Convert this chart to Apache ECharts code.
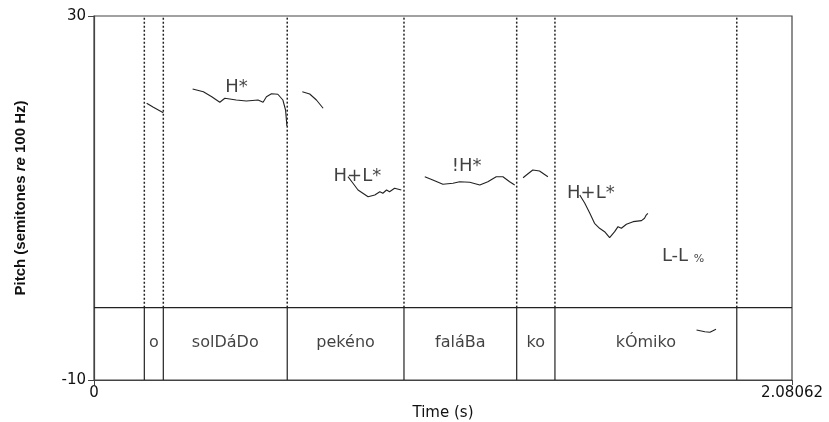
<!DOCTYPE html>
<html>
<head>
<meta charset="utf-8">
<script src="https://cdn.jsdelivr.net/npm/echarts@6/dist/echarts.min.js"></script>
<style>
  html, body { margin: 0; padding: 0; background: #fff; }
  #chart { width: 829px; height: 422px; }
</style>
</head>
<body>
<div id="chart"></div>
<script>
// word boundaries (s) and the word tier
const boundaries = [0.150, 0.2066, 0.576, 0.924, 1.260, 1.374, 1.916];
const words = ['o', 'solDáDo', 'pekéno', 'faláBa', 'ko', 'kÓmiko'];
const tierLine = -2.05;
const wordPitch = -5.9;

// tone labels
const toneNames = ['H*', 'H+L*', '!H*', 'H+L*', 'L-L {pc|%}'];
const toneTimes = [0.425, 0.785, 1.111, 1.481, 1.756];
const tonePitch = [22.16, 12.34, 13.44, 10.52, 3.55];

// pitch track pieces [time, semitones]
const f0Seg1 = [[0.157, 20.41], [0.177, 19.97], [0.2066, 19.37]];
const f0Seg2 = [[0.294, 21.98], [0.326, 21.68], [0.351, 21.13], [0.375, 20.52], [0.390, 20.96],
  [0.424, 20.77], [0.454, 20.66], [0.489, 20.77], [0.504, 20.52], [0.514, 21.13],
  [0.529, 21.46], [0.548, 21.40], [0.563, 20.77], [0.571, 19.67], [0.575, 17.91]];
const f0Seg3 = [[0.621, 21.68], [0.643, 21.43], [0.663, 20.77], [0.683, 19.86]];
const f0Seg4 = [[0.757, 12.34], [0.772, 11.62], [0.787, 10.88], [0.817, 10.14], [0.837, 10.33],
  [0.852, 10.69], [0.861, 10.52], [0.872, 10.88], [0.881, 10.69], [0.896, 11.07], [0.916, 10.88]];
const f0Seg5 = [[0.986, 12.34], [1.010, 11.98], [1.040, 11.51], [1.070, 11.62], [1.090, 11.79],
  [1.120, 11.73], [1.150, 11.43], [1.174, 11.79], [1.199, 12.34], [1.219, 12.34],
  [1.239, 11.79], [1.254, 11.43]];
const f0Seg6 = [[1.279, 12.23], [1.289, 12.53], [1.308, 13.08], [1.328, 12.97], [1.353, 12.34]];
const f0Seg7 = [[1.448, 10.33], [1.463, 9.42], [1.478, 8.32], [1.492, 7.22], [1.507, 6.67],
  [1.522, 6.30], [1.537, 5.64], [1.552, 6.30], [1.562, 6.85], [1.572, 6.67], [1.587, 7.11],
  [1.607, 7.40], [1.632, 7.51], [1.641, 7.77], [1.646, 8.13], [1.651, 8.32]];
const f0Seg8 = [[1.796, -4.51], [1.821, -4.69], [1.836, -4.76], [1.854, -4.43]];

const xMax = 2.08062;
const inkColor = '#222';
const font = 'DejaVu Sans';

const series = [];

[f0Seg1, f0Seg2, f0Seg3, f0Seg4, f0Seg5, f0Seg6, f0Seg7, f0Seg8].forEach(seg => {
    series.push({
        type: 'line',
        data: seg,
        showSymbol: false,
        silent: true,
        animation: false,
        lineStyle: { color: inkColor, width: 1.1 }
    });
});

// boundaries: dotted above the tier line, solid inside the word tier
boundaries.forEach(b => {
    series.push({
        type: 'line',
        data: [[b, tierLine], [b, 30]],
        showSymbol: false,
        silent: true,
        animation: false,
        lineStyle: { color: inkColor, width: 1.5, type: [2, 2] }
    });
    series.push({
        type: 'line',
        data: [[b, -10], [b, tierLine]],
        showSymbol: false,
        silent: true,
        animation: false,
        lineStyle: { color: inkColor, width: 1.2 }
    });
});

series.push({
    type: 'line',
    data: [[0, tierLine], [xMax, tierLine]],
    showSymbol: false,
    silent: true,
    animation: false,
    lineStyle: { color: inkColor, width: 1.2 }
});

// word labels centred in their intervals
series.push({
    type: 'scatter',
    symbolSize: 1,
    silent: true,
    animation: false,
    itemStyle: { color: 'rgba(0,0,0,0)' },
    data: words.map((w, i) => ({ name: w, value: [(boundaries[i] + boundaries[i + 1]) / 2, wordPitch] })),
    label: {
        show: true,
        position: 'inside',
        formatter: '{b}',
        color: '#111',
        fontFamily: font,
        fontSize: 16
    }
});

series.push({
    type: 'scatter',
    symbolSize: 1,
    silent: true,
    animation: false,
    itemStyle: { color: 'rgba(0,0,0,0)' },
    data: toneNames.map((n, i) => ({ name: n, value: [toneTimes[i], tonePitch[i]] })),
    label: {
        show: true,
        position: 'inside',
        formatter: p => p.name,
        color: '#111',
        fontFamily: font,
        fontSize: 18,
        rich: {
            pc: { fontFamily: font, fontSize: 11, color: '#111', padding: [4, 0, 0, 0] }
        }
    }
});

const option = {
    animation: false,
    backgroundColor: '#fff',
    grid: {
        left: 94,
        right: 37,
        top: 16,
        bottom: 42,
        outerBoundsMode: 'none',
        containLabel: false,
        show: true,
        borderColor: '#444',
        borderWidth: 1.2
    },
    xAxis: {
        type: 'value',
        min: 0,
        max: xMax,
        interval: xMax,
        name: 'Time (s)',
        nameLocation: 'middle',
        nameGap: 26,
        nameTextStyle: { fontFamily: font, fontSize: 15, color: '#111' },
        splitLine: { show: false },
        axisLine: { show: true, onZero: false, lineStyle: { color: '#444', width: 1.2 } },
        axisTick: { show: true, length: 5, lineStyle: { color: '#444' } },
        axisLabel: {
            margin: 6,
            fontFamily: font,
            fontSize: 15,
            color: '#111',
            formatter: v => (v === 0 ? '0' : '2.08062')
        }
    },
    yAxis: {
        type: 'value',
        min: -10,
        max: 30,
        interval: 40,
        name: 'Pitch (semitones {it|re} 100 Hz)',
        nameLocation: 'middle',
        nameGap: 66,
        nameTextStyle: {
            fontFamily: 'Liberation Sans',
            fontWeight: 'bold',
            fontSize: 15,
            color: '#111',
            rich: {
                it: { fontFamily: 'Liberation Sans', fontWeight: 'bold', fontStyle: 'italic', fontSize: 15, color: '#111' }
            }
        },
        splitLine: { show: false },
        axisLine: { show: true, onZero: false, lineStyle: { color: '#444', width: 1.2 } },
        axisTick: { show: true, length: 6, lineStyle: { color: '#444' } },
        axisLabel: {
            margin: 8,
            fontFamily: font,
            fontSize: 15,
            color: '#111'
        }
    },
    series: series
};

const chart = echarts.init(document.getElementById('chart'));
chart.setOption(option);
</script>
</body>
</html>
